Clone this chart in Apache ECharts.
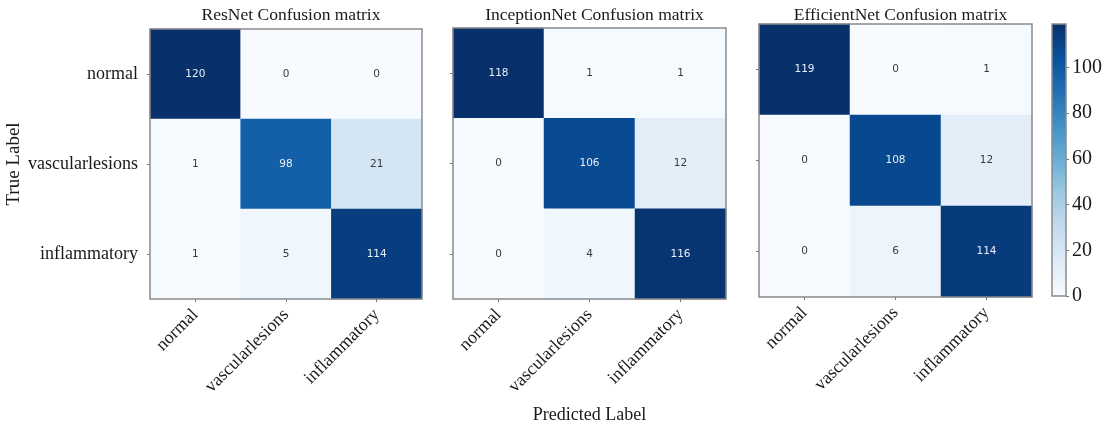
<!DOCTYPE html>
<html>
<head>
<meta charset="utf-8">
<script src="https://cdn.jsdelivr.net/npm/echarts@6/dist/echarts.min.js"></script>
<style>
  html, body { margin: 0; padding: 0; background: #fff; }
  #chart { width: 1117px; height: 426px; }
</style>
</head>
<body>
<div id="chart"></div>
<script>
const labels = ["normal", "vascularlesions", "inflammatory"];
const titles = ["ResNet Confusion matrix", "InceptionNet Confusion matrix", "EfficientNet Confusion matrix"];
// rows = true label, cols = predicted label
const resnet = [
  [120, 0, 0],
  [1, 98, 21],
  [1, 5, 114],
];
const inception = [
  [118, 1, 1],
  [0, 106, 12],
  [0, 4, 116],
];
const efficient = [
  [119, 0, 1],
  [0, 108, 12],
  [0, 6, 114],
];
const colorbarMax = 119;
const colorbarTicks = [0, 20, 40, 60, 80, 100];

const matrices = [resnet, inception, efficient];
const blues = ["#f7fbff", "#deebf7", "#c6dbef", "#9ecae1", "#6baed6", "#4292c6", "#2171b5", "#08519c", "#08306b"];
const serif = "Liberation Serif";
const ink = "#1a1a1a";

const grids = [
  { left: 150, top: 29, width: 272, height: 270 },
  { left: 453, top: 28, width: 273, height: 271 },
  { left: 759, top: 24, width: 273, height: 273 },
  { left: 1052, top: 24, width: 14, height: 272 },
];

const chart = echarts.init(document.getElementById("chart"));

const xAxis = [];
const yAxis = [];
const series = [];
const visualMap = [];
const title = [];

matrices.forEach((m, i) => {
  const vmax = Math.max(...m.flat());
  const data = [];
  m.forEach((row, r) => {
    row.forEach((v, c) => {
      data.push({
        value: [c, r, v],
        label: { color: v > vmax / 2 ? "#e8eef8" : "#3a3a3a" },
      });
    });
  });
  xAxis.push({
    type: "category",
    gridIndex: i,
    data: labels,
    axisLine: { show: false },
    axisTick: { show: true, alignWithLabel: true, length: 3, lineStyle: { color: "#777" } },
    axisLabel: { rotate: 45, margin: 13, fontFamily: serif, fontSize: 18, color: ink },
    splitLine: { show: false },
    name: i === 1 ? "Predicted Label" : "",
    nameLocation: "middle",
    nameGap: 107,
    nameTextStyle: { fontFamily: serif, fontSize: 18, color: ink },
  });
  yAxis.push({
    type: "category",
    gridIndex: i,
    data: labels,
    inverse: true,
    axisLine: { show: false },
    axisTick: { show: true, alignWithLabel: true, length: 3, lineStyle: { color: "#777" } },
    axisLabel: { show: i === 0, margin: 12, fontFamily: serif, fontSize: 18, color: ink },
    splitLine: { show: false },
    name: i === 0 ? "True Label" : "",
    nameLocation: "middle",
    nameGap: 126,
    nameRotate: 90,
    nameTextStyle: { fontFamily: serif, fontSize: 19, color: ink },
  });
  series.push({
    type: "heatmap",
    xAxisIndex: i,
    yAxisIndex: i,
    data: data,
    label: { show: true, fontSize: 10.5, fontFamily: "DejaVu Sans" },
    emphasis: { disabled: true },
  });
  visualMap.push({
    type: "continuous",
    show: false,
    seriesIndex: i,
    dimension: 2,
    min: 0,
    max: vmax,
    inRange: { color: blues },
  });
  title.push({
    text: titles[i],
    left: grids[i].left + grids[i].width / 2,
    textAlign: "center",
    top: 1,
    textStyle: { fontFamily: serif, fontSize: 17.5, fontWeight: "normal", color: ink },
  });
});

// colorbar
xAxis.push({
  type: "category",
  gridIndex: 3,
  data: ["cb"],
  show: false,
});
yAxis.push({
  type: "value",
  gridIndex: 3,
  position: "right",
  min: 0,
  max: colorbarMax,
  interval: 20,
  axisLine: { show: false },
  axisTick: { show: true, length: 3, lineStyle: { color: "#777" } },
  splitLine: { show: false },
  axisLabel: {
    margin: 6,
    fontFamily: serif,
    fontSize: 20,
    color: ink,
    showMaxLabel: false,
    formatter: (v) => (colorbarTicks.includes(v) ? String(v) : ""),
  },
});
series.push({
  type: "bar",
  xAxisIndex: 3,
  yAxisIndex: 3,
  data: [colorbarMax],
  barWidth: "100%",
  silent: true,
  itemStyle: {
    color: {
      type: "linear", x: 0, y: 1, x2: 0, y2: 0,
      colorStops: blues.map((c, k) => ({ offset: k / (blues.length - 1), color: c })),
    },
  },
});

chart.setOption({
  backgroundColor: "#fff",
  animation: false,
  title: title,
  grid: grids.map((g) => ({
    ...g,
    show: true,
    z: 10,
    outerBoundsMode: "none",
    backgroundColor: "transparent",
    borderColor: "#8a8a8a",
    borderWidth: 1.5,
  })),
  xAxis: xAxis,
  yAxis: yAxis,
  visualMap: visualMap,
  series: series,
});
</script>
</body>
</html>
